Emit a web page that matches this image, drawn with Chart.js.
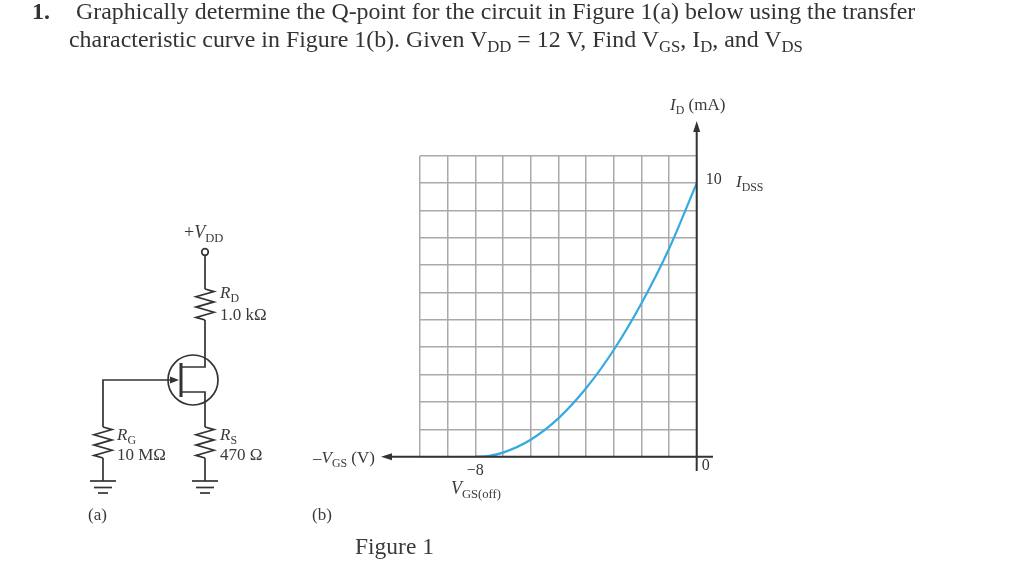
<!DOCTYPE html>
<html>
<head>
<meta charset="utf-8">
<script src="https://cdn.jsdelivr.net/npm/chart.js@4"></script>
<style>
body { margin: 0; background: #fff; overflow: hidden; }
#wrap { position: relative; width: 1024px; height: 575px; font-family: "Liberation Serif", serif; color: #3a3a3a; filter: blur(0.45px); }
#chart { position: absolute; left: 0; top: 0; }
.t { position: absolute; white-space: nowrap; line-height: 1; }
.h { font-size: 23.9px; color: #333; }
.l { font-size: 17px; }
sub { font-size: 70%; vertical-align: baseline; position: relative; top: 0.3em; font-style: normal; }
i { font-style: italic; }
</style>
</head>
<body>
<div id="wrap">
<canvas id="chart" width="1024" height="575"></canvas>
<div class="t h" style="left:32px;top:0px;font-weight:bold">1.</div>
<div class="t h" style="left:76px;top:0px">Graphically determine the Q-point for the circuit in Figure 1(a) below using the transfer</div>
<div class="t h" style="left:69px;top:28px">characteristic curve in Figure 1(b). Given V<sub>DD</sub> = 12 V, Find V<sub>GS</sub>, I<sub>D</sub>, and V<sub>DS</sub></div>
<div class="t l" style="left:670px;top:96px"><i>I</i><sub>D</sub> (mA)</div>
<div class="t l" style="left:736px;top:173px"><i>I</i><sub>DSS</sub></div>
<div class="t l" style="left:313px;top:449px">–<i>V</i><sub>GS</sub> (V)</div>
<div class="t l" style="left:451px;top:479px;font-size:18px"><i>V</i><sub>GS(off)</sub></div>
<div class="t l" style="left:184px;top:223px;font-size:18px">+<i>V</i><sub>DD</sub></div>
<div class="t l" style="left:220px;top:284px"><i>R</i><sub>D</sub></div>
<div class="t l" style="left:220px;top:306px">1.0 kΩ</div>
<div class="t l" style="left:117px;top:426px"><i>R</i><sub>G</sub></div>
<div class="t l" style="left:117px;top:446px">10 MΩ</div>
<div class="t l" style="left:220px;top:426px"><i>R</i><sub>S</sub></div>
<div class="t l" style="left:220px;top:446px">470 Ω</div>
<div class="t l" style="left:88px;top:506px">(a)</div>
<div class="t l" style="left:312px;top:506px">(b)</div>
<div class="t" style="left:355px;top:535px;font-size:23.5px">Figure 1</div>
</div>
<script>
// transfer curve
var vgsValues = [-8, -7.5, -7, -6, -5, -4, -3, -2, -1, 0];
var idValues = [0, 0.03, 0.15, 0.62, 1.4, 2.5, 3.9, 5.6, 7.6, 10];
var xTickLabels = ['−8'];
var yTickLabels = ['10'];
var originLabel = '0';

var ink = '#333';

function line(c, pts) {
    c.beginPath();
    c.moveTo(pts[0][0], pts[0][1]);
    for (var i = 1; i < pts.length; i++) c.lineTo(pts[i][0], pts[i][1]);
    c.stroke();
}
function tri(c, a, b, d) {
    c.beginPath();
    c.moveTo(a[0], a[1]); c.lineTo(b[0], b[1]); c.lineTo(d[0], d[1]);
    c.closePath();
    c.fill();
}
function resistor(c, x, y0, y1) {
    var n = 6, pts = [[x, y0]];
    for (var i = 0; i < n; i++) {
        pts.push([x + (i % 2 ? -9 : 9), y0 + (i + 0.5) * (y1 - y0) / n]);
    }
    pts.push([x, y1]);
    line(c, pts);
}
function ground(c, x, y) {
    line(c, [[x - 13, y], [x + 13, y]]);
    line(c, [[x - 9, y + 6.5], [x + 9, y + 6.5]]);
    line(c, [[x - 5, y + 12], [x + 5, y + 12]]);
}

var extras = {
    id: 'extras',
    afterDraw: function (chart) {
        var c = chart.ctx;
        var x0 = chart.scales.x.getPixelForValue(0);
        var y0 = chart.scales.y.getPixelForValue(0);
        c.save();
        c.strokeStyle = ink;
        c.fillStyle = ink;
        c.lineWidth = 2;

        // axes with arrow heads
        line(c, [[388, y0], [713, y0]]);
        line(c, [[x0, 128], [x0, 471]]);
        tri(c, [381, y0], [392, y0 - 3.5], [392, y0 + 3.5]);
        tri(c, [x0, 121], [x0 - 3.5, 132], [x0 + 3.5, 132]);

        c.font = '16px "Liberation Serif"';
        c.textAlign = 'center';
        c.textBaseline = 'middle';
        c.fillText(originLabel, x0 + 9, 466);

        // circuit (a)
        c.lineWidth = 1.7;
        c.beginPath(); c.arc(205, 252, 3.3, 0, Math.PI * 2); c.stroke();
        line(c, [[205, 255], [205, 289]]);
        resistor(c, 205, 289, 320);
        line(c, [[205, 320], [205, 367], [182, 367]]);
        line(c, [[182, 392], [205, 392], [205, 427]]);
        resistor(c, 205, 427, 458);
        line(c, [[205, 458], [205, 481]]);
        ground(c, 205, 481);

        line(c, [[172, 380], [103, 380], [103, 427]]);
        resistor(c, 103, 427, 458);
        line(c, [[103, 458], [103, 481]]);
        ground(c, 103, 481);
        tri(c, [179, 380], [170, 376.5], [170, 383.5]);

        c.beginPath(); c.arc(193, 380, 25, 0, Math.PI * 2); c.stroke();
        c.lineWidth = 3;
        line(c, [[181, 363], [181, 397]]);
        c.restore();
    }
};

new Chart(document.getElementById('chart').getContext('2d'), {
    type: 'scatter',
    data: {
        datasets: [{
            data: vgsValues.map(function (v, i) { return { x: v, y: idValues[i] }; }),
            showLine: true,
            borderColor: '#35a9e1',
            borderWidth: 2.2,
            pointRadius: 0,
            tension: 0.4,
            cubicInterpolationMode: 'monotone'
        }]
    },
    options: {
        responsive: false,
        animation: false,
        devicePixelRatio: 1,
        // the scale boxes below take 40px out of these paddings
        layout: { padding: { left: 420, right: 287.3, top: 155.7, bottom: 78.3 } },
        plugins: { legend: { display: false }, tooltip: { enabled: false } },
        scales: {
            x: {
                type: 'linear',
                min: -10,
                max: 0,
                afterFit: function (s) { s.height = 40; },
                grid: { color: '#aaa', lineWidth: 1.5, drawTicks: false },
                border: { display: false },
                ticks: {
                    stepSize: 1,
                    autoSkip: false,
                    maxRotation: 0,
                    padding: 4,
                    color: ink,
                    font: { family: 'Liberation Serif', size: 16 },
                    callback: function (v) { return v === -8 ? xTickLabels[0] : ''; }
                }
            },
            y: {
                type: 'linear',
                position: 'right',
                min: 0,
                max: 11,
                afterFit: function (s) { s.width = 40; },
                grid: { color: '#aaa', lineWidth: 1.5, drawTicks: false },
                border: { display: false },
                ticks: {
                    stepSize: 1,
                    autoSkip: false,
                    padding: 9,
                    labelOffset: -3,
                    color: ink,
                    font: { family: 'Liberation Serif', size: 16 },
                    callback: function (v) { return v === 10 ? yTickLabels[0] : ''; }
                }
            }
        }
    },
    plugins: [extras]
});
</script>
</body>
</html>
